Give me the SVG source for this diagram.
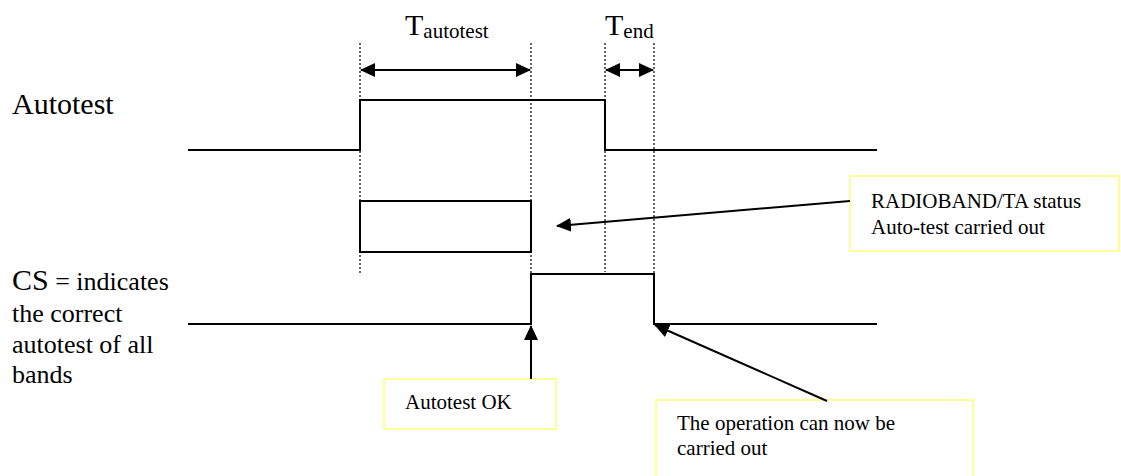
<svg xmlns="http://www.w3.org/2000/svg" width="1121" height="476" viewBox="0 0 1121 476" font-family="'Liberation Serif', 'Times New Roman', 'DejaVu Serif', serif">
<style>
text, tspan{font-family:'Liberation Serif', 'Times New Roman', 'DejaVu Serif', serif;fill:#000}
.big{font-size:30px}
.med{font-size:26px}
.sm{font-size:21px}
.sig{fill:none;stroke:#000;stroke-width:2}
.dot{fill:none;stroke:#333;stroke-width:1.5;stroke-dasharray:2 2}
.note{fill:#fff;stroke:#ffff99;stroke-width:2}
.conn{fill:none;stroke:#000;stroke-width:2}
</style>
<defs>
<marker id="ah" viewBox="0 0 15 14" refX="14" refY="7" markerWidth="15" markerHeight="14" markerUnits="userSpaceOnUse" orient="auto-start-reverse">
<path d="M0,0 L15,7 L0,14 z" fill="#000"/>
</marker>
</defs>
<rect width="1121" height="476" fill="#fff"/>
<g id="guides">
<line class="dot" x1="360" y1="43" x2="360" y2="274"/>
<line class="dot" x1="531" y1="43" x2="531" y2="274"/>
<line class="dot" x1="605" y1="43" x2="605" y2="272"/>
<line class="dot" x1="654" y1="43" x2="654" y2="274"/>
</g>
<g id="label-tautotest"><text class="big" x="405" y="35">T<tspan class="sm" dy="3">autotest</tspan></text></g>
<g id="label-tend"><text class="big" x="605" y="35">T<tspan class="sm" dy="3">end</tspan></text></g>
<g id="label-autotest"><text class="big" x="12" y="114">Autotest</text></g>
<g id="label-cs">
<text class="med" x="12" y="290"><tspan class="big">CS</tspan> = indicates</text>
<text class="med" x="12" y="322">the correct</text>
<text class="med" x="12" y="353">autotest of all</text>
<text class="med" x="12" y="383">bands</text>
</g>
<g id="signal-autotest"><polyline class="sig" points="188,150 360,150 360,100 605,100 605,150 877,150"/></g>
<g id="status-box"><rect class="sig" x="360" y="201" width="171" height="51"/></g>
<g id="signal-cs"><polyline class="sig" points="188,324 531,324 531,274 654,274 654,324 877,324"/></g>
<g id="note-radioband">
<rect class="note" x="850" y="176" width="269" height="75"/>
<text class="sm" x="871" y="208">RADIOBAND/TA status</text>
<text class="sm" x="871" y="234">Auto-test carried out</text>
</g>
<g id="note-autotest-ok">
<rect class="note" x="384" y="379" width="172" height="50"/>
<text class="sm" x="405" y="409">Autotest OK</text>
</g>
<g id="note-operation">
<rect class="note" x="656" y="400" width="317" height="80"/>
<text class="sm" x="677" y="430">The operation can now be</text>
<text class="sm" x="677" y="455">carried out</text>
</g>
<g id="connectors">
<line class="conn" x1="361" y1="70" x2="530" y2="70" marker-start="url(#ah)" marker-end="url(#ah)"/>
<line class="conn" x1="606" y1="70" x2="653" y2="70" marker-start="url(#ah)" marker-end="url(#ah)"/>
<line class="conn" x1="850" y1="201" x2="557" y2="226" marker-end="url(#ah)"/>
<line class="conn" x1="531" y1="379" x2="531" y2="326" marker-end="url(#ah)"/>
<line class="conn" x1="827" y1="401" x2="655" y2="325" marker-end="url(#ah)"/>
</g>
</svg>
